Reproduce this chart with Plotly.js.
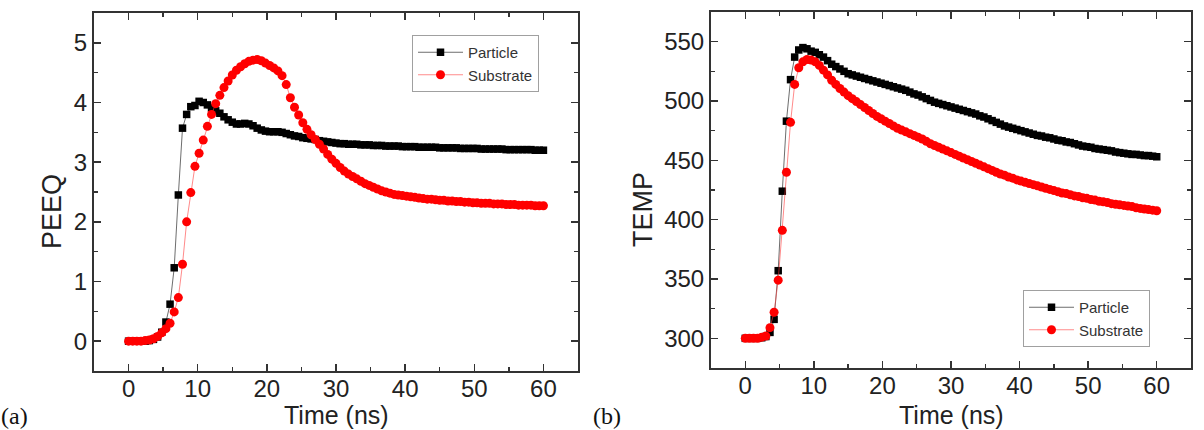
<!DOCTYPE html>
<html>
<head>
<meta charset="utf-8">
<script src="https://cdn.plot.ly/plotly-3.0.1.min.js"></script>
<style>html,body{margin:0;padding:0;background:#fff;}#chart{width:1204px;height:430px;}</style>
</head>
<body>
<div id="chart"></div>
<script>
// Time (ns), 0.6 ns output step
const timeNs = [
  0,0.6,1.2,1.8,2.4,3,3.6,4.2,4.8,5.4,
  6,6.6,7.2,7.8,8.4,9,9.6,10.2,10.8,11.4,
  12,12.6,13.2,13.8,14.4,15,15.6,16.2,16.8,17.4,
  18,18.6,19.2,19.8,20.4,21,21.6,22.2,22.8,23.4,
  24,24.6,25.2,25.8,26.4,27,27.6,28.2,28.8,29.4,
  30,30.6,31.2,31.8,32.4,33,33.6,34.2,34.8,35.4,
  36,36.6,37.2,37.8,38.4,39,39.6,40.2,40.8,41.4,
  42,42.6,43.2,43.8,44.4,45,45.6,46.2,46.8,47.4,
  48,48.6,49.2,49.8,50.4,51,51.6,52.2,52.8,53.4,
  54,54.6,55.2,55.8,56.4,57,57.6,58.2,58.8,59.4,
  60
];
const peeqParticle = [
  0,0,0,0,0,0.01,0.03,0.07,0.15,0.32,
  0.62,1.23,2.45,3.57,3.80,3.93,3.95,4.02,4.00,3.96,
  3.91,3.86,3.82,3.76,3.71,3.67,3.64,3.64,3.65,3.64,
  3.61,3.57,3.54,3.52,3.51,3.51,3.51,3.50,3.48,3.46,
  3.44,3.43,3.41,3.40,3.39,3.38,3.36,3.35,3.34,3.33,
  3.32,3.31,3.31,3.30,3.30,3.30,3.29,3.29,3.29,3.28,
  3.28,3.28,3.27,3.27,3.27,3.27,3.26,3.26,3.26,3.26,
  3.25,3.25,3.25,3.25,3.25,3.24,3.24,3.24,3.24,3.24,
  3.23,3.23,3.23,3.23,3.23,3.22,3.22,3.22,3.22,3.22,
  3.22,3.21,3.21,3.21,3.21,3.21,3.21,3.21,3.20,3.20,
  3.20
];
const peeqSubstrate = [
  0,0,0,0,0.01,0.02,0.04,0.08,0.14,0.21,
  0.30,0.49,0.73,1.29,2.00,2.49,2.93,3.15,3.37,3.60,
  3.80,3.98,4.12,4.25,4.36,4.46,4.54,4.60,4.65,4.69,
  4.71,4.72,4.70,4.66,4.62,4.58,4.53,4.45,4.30,4.08,
  3.92,3.79,3.66,3.55,3.46,3.38,3.30,3.22,3.13,3.05,
  2.98,2.91,2.85,2.80,2.76,2.72,2.68,2.64,2.61,2.58,
  2.55,2.52,2.50,2.48,2.46,2.45,2.44,2.43,2.42,2.41,
  2.40,2.39,2.38,2.38,2.37,2.36,2.36,2.35,2.35,2.34,
  2.34,2.33,2.33,2.32,2.32,2.31,2.31,2.31,2.30,2.30,
  2.30,2.29,2.29,2.29,2.28,2.28,2.28,2.28,2.27,2.27,
  2.27
];
const tempParticle = [
  300,300,300,300,300.5,301.5,305,316,357,424,
  483,518,537,543,545,544,542,541,539,537,
  534,531,529,527,525,523,522,521,520,519,
  518,517,516,515,514,513,512,511,510,509,
  507.5,506,505,503.5,502,500.5,499,498,497,496,
  495,494,493,492,491,490,489,487.5,486.5,485,
  483.5,482,480.5,479,478,477,476,475,474,473,
  472,471,470.5,469.5,469,468,467,466.5,465.5,465,
  464,463,462,461.5,461,460,459.5,459,458.5,458,
  457,456.5,456,455.5,455,455,454.5,454,454,453.5,
  453
];
const tempSubstrate = [
  300,300,300,300,301,302,309,322,349,391,
  440,482,514,528,533,535,534.5,533,530,526,
  522,517.5,514,510.5,507.5,504.5,502,499.5,497,494.5,
  492,489.5,487,485,483,481,479,477,475.5,474,
  472.5,471,469.5,468,466,464,462.5,461,459.5,458,
  456.5,455,453.5,452,450.5,449,447.5,446,444.5,443,
  441.5,440,438.5,437.5,436,435,433.5,432.5,431.5,430.5,
  429.5,428.5,427.5,426.5,425.5,424.5,423.5,422.5,422,421,
  420,419.5,418.5,418,417,416.5,415.5,415,414.5,413.5,
  413,412.5,412,411.5,411,410,409.5,409,408.5,408,
  407.5
];
const seriesNames = ['Particle', 'Substrate'];
const xTitle = 'Time (ns)';
const yTitleLeft = 'PEEQ';
const yTitleRight = 'TEMP';
const panelLabels = ['(a)', '(b)'];

const W = 1204, H = 430;
const FONT = 'Liberation Sans, Arial, Helvetica, sans-serif';
const blackLine = {color: 'rgba(60,60,60,0.75)', width: 1};
const redLine = {color: 'rgba(255,60,60,0.6)', width: 1};
const sqMarker = {symbol: 'square', size: 7.5, color: '#000000', line: {width: 0}};
const ciMarker = {symbol: 'circle', size: 9, color: '#ff0000', line: {width: 0}};

const traces = [
  {x: timeNs, y: peeqParticle, name: seriesNames[0], type: 'scatter', mode: 'lines+markers',
   line: blackLine, marker: sqMarker, xaxis: 'x', yaxis: 'y', legend: 'legend'},
  {x: timeNs, y: peeqSubstrate, name: seriesNames[1], type: 'scatter', mode: 'lines+markers',
   line: redLine, marker: ciMarker, xaxis: 'x', yaxis: 'y', legend: 'legend'},
  {x: timeNs, y: tempParticle, name: seriesNames[0], type: 'scatter', mode: 'lines+markers',
   line: blackLine, marker: sqMarker, xaxis: 'x2', yaxis: 'y2', legend: 'legend2'},
  {x: timeNs, y: tempSubstrate, name: seriesNames[1], type: 'scatter', mode: 'lines+markers',
   line: redLine, marker: ciMarker, xaxis: 'x2', yaxis: 'y2', legend: 'legend2'}
];

function axisBase(extra) {
  return Object.assign({
    showline: true, linecolor: '#333', linewidth: 2, mirror: 'ticks',
    ticks: 'inside', ticklen: 7, tickwidth: 1.5, tickcolor: '#333',
    showgrid: false, zeroline: false, automargin: false,
    tickfont: {family: FONT, size: 24, color: '#222'}
  }, extra);
}
const xMinor = {dtick: 5, ticks: 'inside', ticklen: 4, tickcolor: '#333', tickwidth: 1.5};

const legendBase = {
  xanchor: 'left', yanchor: 'top', bgcolor: '#ffffff',
  bordercolor: '#a0a0a0', borderwidth: 1, itemwidth: 45,
  font: {family: FONT, size: 15, color: '#333'}, tracegroupgap: 0
};

const layout = {
  width: W, height: H,
  margin: {l: 0, r: 0, t: 0, b: 0},
  paper_bgcolor: '#ffffff', plot_bgcolor: '#ffffff',
  showlegend: true,
  xaxis: axisBase({domain: [94/W, 578/W], range: [-5, 65], tick0: 0, dtick: 10, anchor: 'y',
    ticklabelstandoff: -5, minor: xMinor}),
  yaxis: axisBase({domain: [1 - 371/H, 1 - 13/H], range: [-0.5, 5.5], tick0: 0, dtick: 1, anchor: 'x',
    minor: {dtick: 0.5, ticks: 'inside', ticklen: 4, tickcolor: '#333', tickwidth: 1.5}}),
  xaxis2: axisBase({domain: [711/W, 1191/W], range: [-5, 65], tick0: 0, dtick: 10, anchor: 'y2',
    ticklabelstandoff: -5, minor: xMinor}),
  yaxis2: axisBase({domain: [1 - 368/H, 1 - 12/H], range: [275, 575], tick0: 300, dtick: 50, anchor: 'x2',
    minor: {dtick: 25, ticks: 'inside', ticklen: 4, tickcolor: '#333', tickwidth: 1.5}}),
  legend: Object.assign({x: 412/W, y: 1 - 35/H}, legendBase),
  legend2: Object.assign({x: 1023/W, y: 1 - 290/H}, legendBase),
  annotations: [
    {text: xTitle, xref: 'paper', yref: 'paper', x: 336/W, y: 0, xanchor: 'center', yanchor: 'bottom',
     showarrow: false, borderpad: 0, font: {family: FONT, size: 25, color: '#222'}},
    {text: xTitle, xref: 'paper', yref: 'paper', x: 951/W, y: 0, xanchor: 'center', yanchor: 'bottom',
     showarrow: false, borderpad: 0, font: {family: FONT, size: 25, color: '#222'}},
    {text: yTitleLeft, xref: 'paper', yref: 'paper', x: 52/W, y: 1 - 212/H, xanchor: 'center', yanchor: 'middle',
     textangle: -90, showarrow: false, font: {family: FONT, size: 27, color: '#222'}},
    {text: yTitleRight, xref: 'paper', yref: 'paper', x: 643/W, y: 1 - 210/H, xanchor: 'center', yanchor: 'middle',
     textangle: -90, showarrow: false, font: {family: FONT, size: 27, color: '#222'}},
    {text: panelLabels[0], xref: 'paper', yref: 'paper', x: 0, y: 0, xanchor: 'left', yanchor: 'bottom',
     showarrow: false, borderpad: 0, font: {family: 'Liberation Serif, Times New Roman, serif', size: 24, color: '#111'}},
    {text: panelLabels[1], xref: 'paper', yref: 'paper', x: 592/W, y: 0, xanchor: 'left', yanchor: 'bottom',
     showarrow: false, borderpad: 0, font: {family: 'Liberation Serif, Times New Roman, serif', size: 24, color: '#111'}}
  ]
};

Plotly.newPlot('chart', traces, layout, {displayModeBar: false, staticPlot: true});
</script>
</body>
</html>
